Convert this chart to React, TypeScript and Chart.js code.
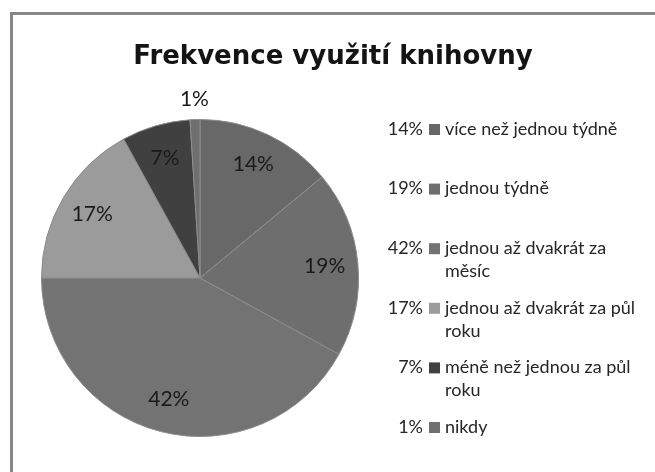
import React, { useEffect, useRef } from "react";
import { Chart, registerables } from "chart.js";

Chart.register(...registerables);

const TITLE = "Frekvence využití knihovny";
const categories = [
  "více než jednou týdně",
  "jednou týdně",
  "jednou až dvakrát za měsíc",
  "jednou až dvakrát za půl roku",
  "méně než jednou za půl roku",
  "nikdy",
];
const values = [14, 19, 42, 17, 7, 1];
const sliceColors = ["#686868", "#6e6e6e", "#737373", "#9b9b9b", "#404040", "#6f6f6f"];

const W = 655;
const H = 472;

function wrap(ctx: CanvasRenderingContext2D, text: string, maxWidth: number): string[] {
  const words = text.split(" ");
  const lines: string[] = [];
  let cur = "";
  for (const w of words) {
    const t = cur ? cur + " " + w : w;
    if (cur && ctx.measureText(t).width > maxWidth) {
      lines.push(cur);
      cur = w;
    } else cur = t;
  }
  if (cur) lines.push(cur);
  return lines;
}

const overlay = {
  id: "overlay",
  afterDraw(chart: any) {
    const ctx: CanvasRenderingContext2D = chart.ctx;
    ctx.save();
    // title
    ctx.font = "bold 26px 'DejaVu Sans'";
    ctx.fillStyle = "#141414";
    ctx.textAlign = "center";
    ctx.textBaseline = "alphabetic";
    ctx.fillText(TITLE, 333, 64);

    // data labels
    const meta = chart.getDatasetMeta(0);
    ctx.font = "21px Lato";
    ctx.fillStyle = "#1a1a1a";
    ctx.textBaseline = "middle";
    ctx.textAlign = "center";
    meta.data.forEach((arc: any, i: number) => {
      const p = arc.getProps(["x", "y", "startAngle", "endAngle", "outerRadius"], true);
      const mid = (p.startAngle + p.endAngle) / 2;
      const small = values[i] < 3;
      const r = small ? p.outerRadius + 20 : p.outerRadius * 0.79;
      ctx.fillText(values[i] + "%", p.x + Math.cos(mid) * r, p.y + Math.sin(mid) * r);
    });

    // legend
    ctx.font = "18px Lato";
    const total = values.reduce((a, b) => a + b, 0);
    categories.forEach((cat, i) => {
      const yc = 129 + i * 59.6;
      ctx.textAlign = "right";
      ctx.fillStyle = "#262626";
      ctx.fillText(Math.round((values[i] / total) * 100) + "%", 423, yc);
      ctx.fillStyle = sliceColors[i];
      ctx.fillRect(429, yc - 5, 11, 11);
      ctx.fillStyle = "#262626";
      ctx.textAlign = "left";
      const lines = wrap(ctx, cat, 196);
      lines.forEach((ln, j) => ctx.fillText(ln, 445, yc + j * 23));
    });
    ctx.restore();
  },
};

export default function App() {
  const ref = useRef<HTMLCanvasElement | null>(null);
  useEffect(() => {
    if (!ref.current) return;
    const chart = new Chart(ref.current, {
      type: "pie",
      data: {
        labels: categories,
        datasets: [
          {
            data: values,
            backgroundColor: sliceColors,
            borderColor: "#8c8c8c",
            borderWidth: 1,
          },
        ],
      },
      options: {
        animation: false,
        responsive: false,
        layout: { padding: { left: 41, top: 119, right: 296, bottom: 35 } },
        plugins: {
          legend: { display: false },
          title: { display: false },
          tooltip: { enabled: false },
        },
      },
      plugins: [overlay],
    });
    return () => chart.destroy();
  }, []);
  return (
    <div style={{ position: "absolute", left: 0, top: 0, width: W, height: H, background: "#fff", overflow: "hidden" }}>
      <canvas ref={ref} width={W} height={H} style={{ position: "absolute", left: 0, top: 0, width: W, height: H }} />
      <div
        style={{
          position: "absolute",
          left: 10,
          top: 12,
          width: W,
          height: H,
          borderTop: "3px solid #878787",
          borderLeft: "3px solid #878787",
          boxSizing: "border-box",
          pointerEvents: "none",
        }}
      />
    </div>
  );
}
